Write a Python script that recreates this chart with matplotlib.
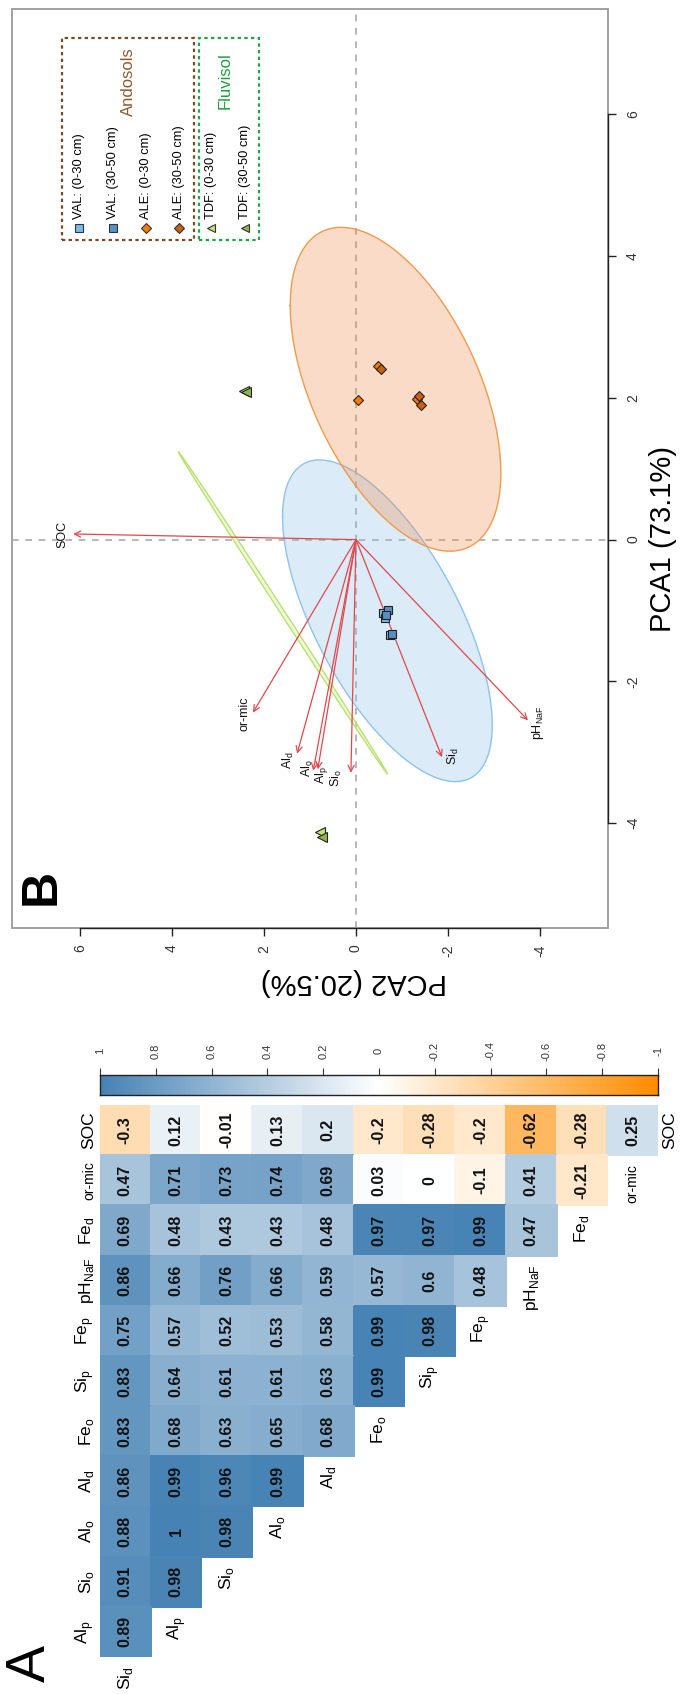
import numpy as np
import matplotlib
matplotlib.use('Agg')
import matplotlib.pyplot as plt
from matplotlib.colors import LinearSegmentedColormap
from matplotlib.patches import Rectangle
import matplotlib.transforms as mtransforms

plt.rcParams['font.family'] = ['Liberation Sans', 'DejaVu Sans']
plt.rcParams['mathtext.fontset'] = 'custom'
plt.rcParams['mathtext.rm'] = 'Liberation Sans'
plt.rcParams['axes.unicode_minus'] = False

# ---------------- Datos panel A (correlaciones) ----------------
col_vars = ['Si_d', 'Al_p', 'Si_o', 'Al_o', 'Al_d', 'Fe_o', 'Si_p', 'Fe_p', 'pH_NaF', 'Fe_d', 'or-mic']
row_vars = ['SOC', 'or-mic', 'Fe_d', 'pH_NaF', 'Fe_p', 'Si_p', 'Fe_o', 'Al_d', 'Al_o', 'Si_o', 'Al_p']
corr_rows = [
    [-0.3, 0.12, -0.01, 0.13, 0.2, -0.2, -0.28, -0.2, -0.62, -0.28, 0.25],
    [0.47, 0.71, 0.73, 0.74, 0.69, 0.03, 0, -0.1, 0.41, -0.21],
    [0.69, 0.48, 0.43, 0.43, 0.48, 0.97, 0.97, 0.99, 0.47],
    [0.86, 0.66, 0.76, 0.66, 0.59, 0.57, 0.6, 0.48],
    [0.75, 0.57, 0.52, 0.53, 0.58, 0.99, 0.98],
    [0.83, 0.64, 0.61, 0.61, 0.63, 0.99],
    [0.83, 0.68, 0.63, 0.65, 0.68],
    [0.86, 0.99, 0.96, 0.99],
    [0.88, 1, 0.98],
    [0.91, 0.98],
    [0.89],
]
cbar_ticks = [1, 0.8, 0.6, 0.4, 0.2, 0, -0.2, -0.4, -0.6, -0.8, -1]

# ---------------- Datos panel B (PCA) ----------------
pca_ticks = [-4, -2, 0, 2, 4, 6]
groups = ['VAL: (0-30 cm)', 'VAL: (30-50 cm)', 'ALE: (0-30 cm)', 'ALE: (30-50 cm)',
          'TDF: (0-30 cm)', 'TDF: (30-50 cm)']
group_site = ['VAL', 'VAL', 'ALE', 'ALE', 'TDF', 'TDF']
group_pc1 = [
    [-1.04, -1.10, -1.34],
    [-0.99, -1.33, -1.07],
    [1.97, 2.45, 1.98],
    [2.41, 2.02, 1.90],
    [2.10, -4.12],
    [2.08, -4.20],
]
group_pc2 = [
    [-0.59, -0.63, -0.74],
    [-0.70, -0.78, -0.66],
    [-0.04, -0.48, -1.32],
    [-0.54, -1.37, -1.41],
    [2.43, 0.78],
    [2.40, 0.74],
]
group_colors = ['#74BDEA', '#5A8FC4', '#FF7A00', '#CC5F0A', '#C0E66A', '#8DB54C']
group_markers = ['s', 's', 'D', 'D', '<', '<']

# elipses por sitio: semiejes (PCA2, PCA1) y correlacion
sites = ['VAL', 'ALE', 'TDF']
site_s_pc2 = [2.28, 2.29, 2.27]
site_s_pc1 = [2.27, 2.285, 2.27]
site_r = [0.648, 0.517, 0.9997]
site_fill = ['#8CC0EA', '#F08A4B', '#D8F0A8']
site_edge = ['#8EC3EA', '#F29A4A', '#B8E070']

# vectores de variables
var_names = ['SOC', 'or-mic', 'Al_d', 'Al_o', 'Al_p', 'Si_o', 'Si_d', 'pH_NaF']
load_pc1 = [0.08, -2.44, -3.02, -3.26, -3.24, -3.29, -3.07, -2.55]
load_pc2 = [6.15, 2.24, 1.28, 0.93, 0.83, 0.11, -1.87, -3.74]

disp = {
    'Si_d': r'Si$_\mathregular{d}$', 'Al_p': r'Al$_\mathregular{p}$', 'Si_o': r'Si$_\mathregular{o}$',
    'Al_o': r'Al$_\mathregular{o}$', 'Al_d': r'Al$_\mathregular{d}$', 'Fe_o': r'Fe$_\mathregular{o}$',
    'Si_p': r'Si$_\mathregular{p}$', 'Fe_p': r'Fe$_\mathregular{p}$', 'pH_NaF': r'pH$_\mathregular{NaF}$',
    'Fe_d': r'Fe$_\mathregular{d}$', 'or-mic': 'or-mic', 'SOC': 'SOC',
}

W, H = 681, 1694
fig = plt.figure(figsize=(W / 100, H / 100), dpi=100)


def px_axes(x0, y0, x1, y1):
    return fig.add_axes([x0 / W, 1 - y1 / H, (x1 - x0) / W, (y1 - y0) / H])


def fmt(v):
    return f'{v:g}'


# ================= Panel B =================
axB = px_axes(12, 9.5, 608, 928)
axB.set_xlim(7.48, -5.48)   # PCA2 horizontal, invertido
axB.set_ylim(-5.48, 7.48)   # PCA1 vertical
for s in ['top', 'left']:
    axB.spines[s].set_visible(False)
for s in ['bottom', 'right']:
    axB.spines[s].set_bounds(-4, 6)
    axB.spines[s].set_color('#222222')
    axB.spines[s].set_linewidth(1)
axB.add_patch(Rectangle((0, 0), 1, 1, transform=axB.transAxes, fill=False,
                        ec='#9A9A9A', lw=1.3, clip_on=False, zorder=0.5))
axB.xaxis.set_ticks_position('bottom')
axB.yaxis.set_ticks_position('right')
axB.set_xticks(pca_ticks)
axB.set_yticks(pca_ticks)
axB.tick_params(direction='out', length=6, width=1, color='#222222',
                labelsize=10, labelcolor='#333333')
axB.tick_params(axis='x', pad=6)
axB.tick_params(axis='y', pad=7)
plt.setp(axB.get_xticklabels(), rotation=90)
plt.setp(axB.get_yticklabels(), rotation=90, va='center')

axB.axhline(0, color='#AAAAAA', ls=(0, (4, 4)), lw=1.2, zorder=1)
axB.axvline(0, color='#AAAAAA', ls=(0, (4, 4)), lw=1.2, zorder=1)

# elipses
t = np.linspace(0, 2 * np.pi, 300)
for k, site in enumerate(sites):
    pc1 = np.concatenate([group_pc1[g] for g in range(len(groups)) if group_site[g] == site])
    pc2 = np.concatenate([group_pc2[g] for g in range(len(groups)) if group_site[g] == site])
    cu, cv = pc2.mean(), pc1.mean()
    d = np.arccos(site_r[k])
    eu = cu + site_s_pc2[k] * np.cos(t)
    ev = cv + site_s_pc1[k] * np.cos(t - d)
    if site == 'TDF':
        axB.fill(eu, ev, color=site_fill[k], alpha=0.4, lw=0, zorder=2)
        axB.plot(eu, ev, color=site_edge[k], lw=1.0, zorder=2)
    else:
        axB.fill(eu, ev, color=site_fill[k], alpha=0.3, lw=0, zorder=2)
        axB.plot(eu, ev, color=site_edge[k], lw=1.0, zorder=2)

# flechas
label_off = {'SOC': (-11, 0), 'or-mic': (-8, -1), 'Al_d': (-9, -7), 'Al_o': (-6, 3),
             'Al_p': (4, -6), 'Si_o': (-14, -5), 'Si_d': (11, 1), 'pH_NaF': (10, -3)}
for name, p1, p2 in zip(var_names, load_pc1, load_pc2):
    axB.annotate('', xy=(p2, p1), xytext=(0, 0),
                 arrowprops=dict(arrowstyle='->', color='#E0484C', lw=0.9,
                                 shrinkA=0, shrinkB=0, mutation_scale=11), zorder=3)
    axB.annotate(disp[name], xy=(p2, p1), xytext=label_off[name], textcoords='offset pixels',
                 rotation=90, ha='center', va='center', fontsize=9, color='#111111', zorder=4)

# puntos
for g in range(len(groups)):
    ms = 6 if group_markers[g] == 's' else (5 if group_markers[g] == 'D' else 7)
    axB.plot(group_pc2[g], group_pc1[g], ls='none', marker=group_markers[g], ms=ms,
             mfc=group_colors[g], mec='#222222', mew=0.8, zorder=5)

# leyenda
axB.add_patch(Rectangle((0.084, 0.749), 0.221, 0.220, transform=axB.transAxes, fill=False,
                        ec='#7B4A22', lw=1.6, ls=(0, (1.5, 1.5)), zorder=6))
axB.add_patch(Rectangle((0.314, 0.749), 0.100, 0.220, transform=axB.transAxes, fill=False,
                        ec='#1FA548', lw=1.6, ls=(0, (1.5, 1.5)), zorder=6))
leg_x = [0.112, 0.169, 0.225, 0.280, 0.334, 0.391]
for g in range(len(groups)):
    axB.plot([leg_x[g]], [0.762], transform=axB.transAxes, ls='none', marker=group_markers[g],
             ms=5.5 if group_markers[g] != 'D' else 5, mfc=group_colors[g], mec='#333333',
             mew=0.8, zorder=7, clip_on=False)
    axB.text(leg_x[g], 0.772, groups[g], transform=axB.transAxes, rotation=90,
             ha='center', va='bottom', fontsize=9.3, zorder=7)
axB.text(0.195, 0.922, 'Andosols', transform=axB.transAxes, rotation=90, ha='center',
         va='center', fontsize=12, color='#8C5A2E')
axB.text(0.357, 0.923, 'Fluvisol', transform=axB.transAxes, rotation=90, ha='center',
         va='center', fontsize=12, color='#1E9E3E')

fig.text(663 / W, 1 - 539 / H, 'PCA1 (73.1%)', rotation=90, fontsize=21,
         ha='center', va='center')
fig.text(354 / W, 1 - 982 / H, 'PCA2 (20.5%)', rotation=180, fontsize=21,
         ha='center', va='center')
fig.text(42 / W, 1 - 887 / H, 'B', rotation=90, fontsize=36, fontweight='bold',
         ha='center', va='center')

# ================= Panel A =================
cmap = LinearSegmentedColormap.from_list('corr', ['#FF8C00', '#FFFFFF', '#4682B4'])
n = len(row_vars)
M = np.full((n, len(col_vars)), np.nan)
for i, row in enumerate(corr_rows):
    M[i, :len(row)] = row

axA = px_axes(100, 1105, 658, 1657)
axA.pcolormesh(np.arange(len(col_vars) + 1), np.arange(n + 1), np.ma.masked_invalid(M),
               cmap=cmap, vmin=-1, vmax=1, edgecolors='face', lw=0.3)
axA.set_xlim(0, len(col_vars))
axA.set_ylim(n, 0)
axA.axis('off')
for i, row in enumerate(corr_rows):
    for j, v in enumerate(row):
        axA.text(j + 0.5, i + 0.5, fmt(v), rotation=90, ha='center', va='center',
                 fontsize=11.5, fontweight='bold', color='#111111')
for i, name in enumerate(row_vars):
    axA.text(-0.08, i + 0.5, disp[name], rotation=90, ha='right', va='center',
             fontsize=10 if name == 'or-mic' else 12.5, clip_on=False)
for j, name in enumerate(col_vars):
    axA.text(j + 0.5, len(corr_rows[0]) - j + 0.18, disp[name], rotation=90, ha='center',
             va='top', fontsize=10 if name == 'or-mic' else 12.5, clip_on=False)
axA.text(len(col_vars) + 0.08, 0.5, disp[row_vars[0]], rotation=90, ha='left', va='center',
         fontsize=12.5, clip_on=False)

# barra de color
axC = px_axes(100, 1075, 658, 1095)
grad = np.linspace(1, -1, 400)
axC.pcolormesh(grad, [0, 1], ((grad[:-1] + grad[1:]) / 2)[None, :], cmap=cmap, vmin=-1, vmax=1)
axC.set_xlim(1, -1)
axC.set_ylim(0, 1)
for s in axC.spines.values():
    s.set_linewidth(1)
    s.set_color('#222222')
axC.set_yticks([])
axC.xaxis.set_ticks_position('top')
axC.set_xticks(cbar_ticks)
axC.set_xticklabels([])
axC.tick_params(axis='x', direction='out', length=5, width=0.8, color='#333333')
trans = mtransforms.blended_transform_factory(axC.transData, axC.transAxes)
for v in cbar_ticks:
    axC.text(v, 2.2, fmt(v), transform=trans, rotation=90, ha='center', va='center',
             fontsize=8, color='#333333')

fig.text(31 / W, 1 - 1663 / H, 'A', rotation=90, fontsize=40, ha='center', va='center')

fig.savefig('out.png', dpi=100)
